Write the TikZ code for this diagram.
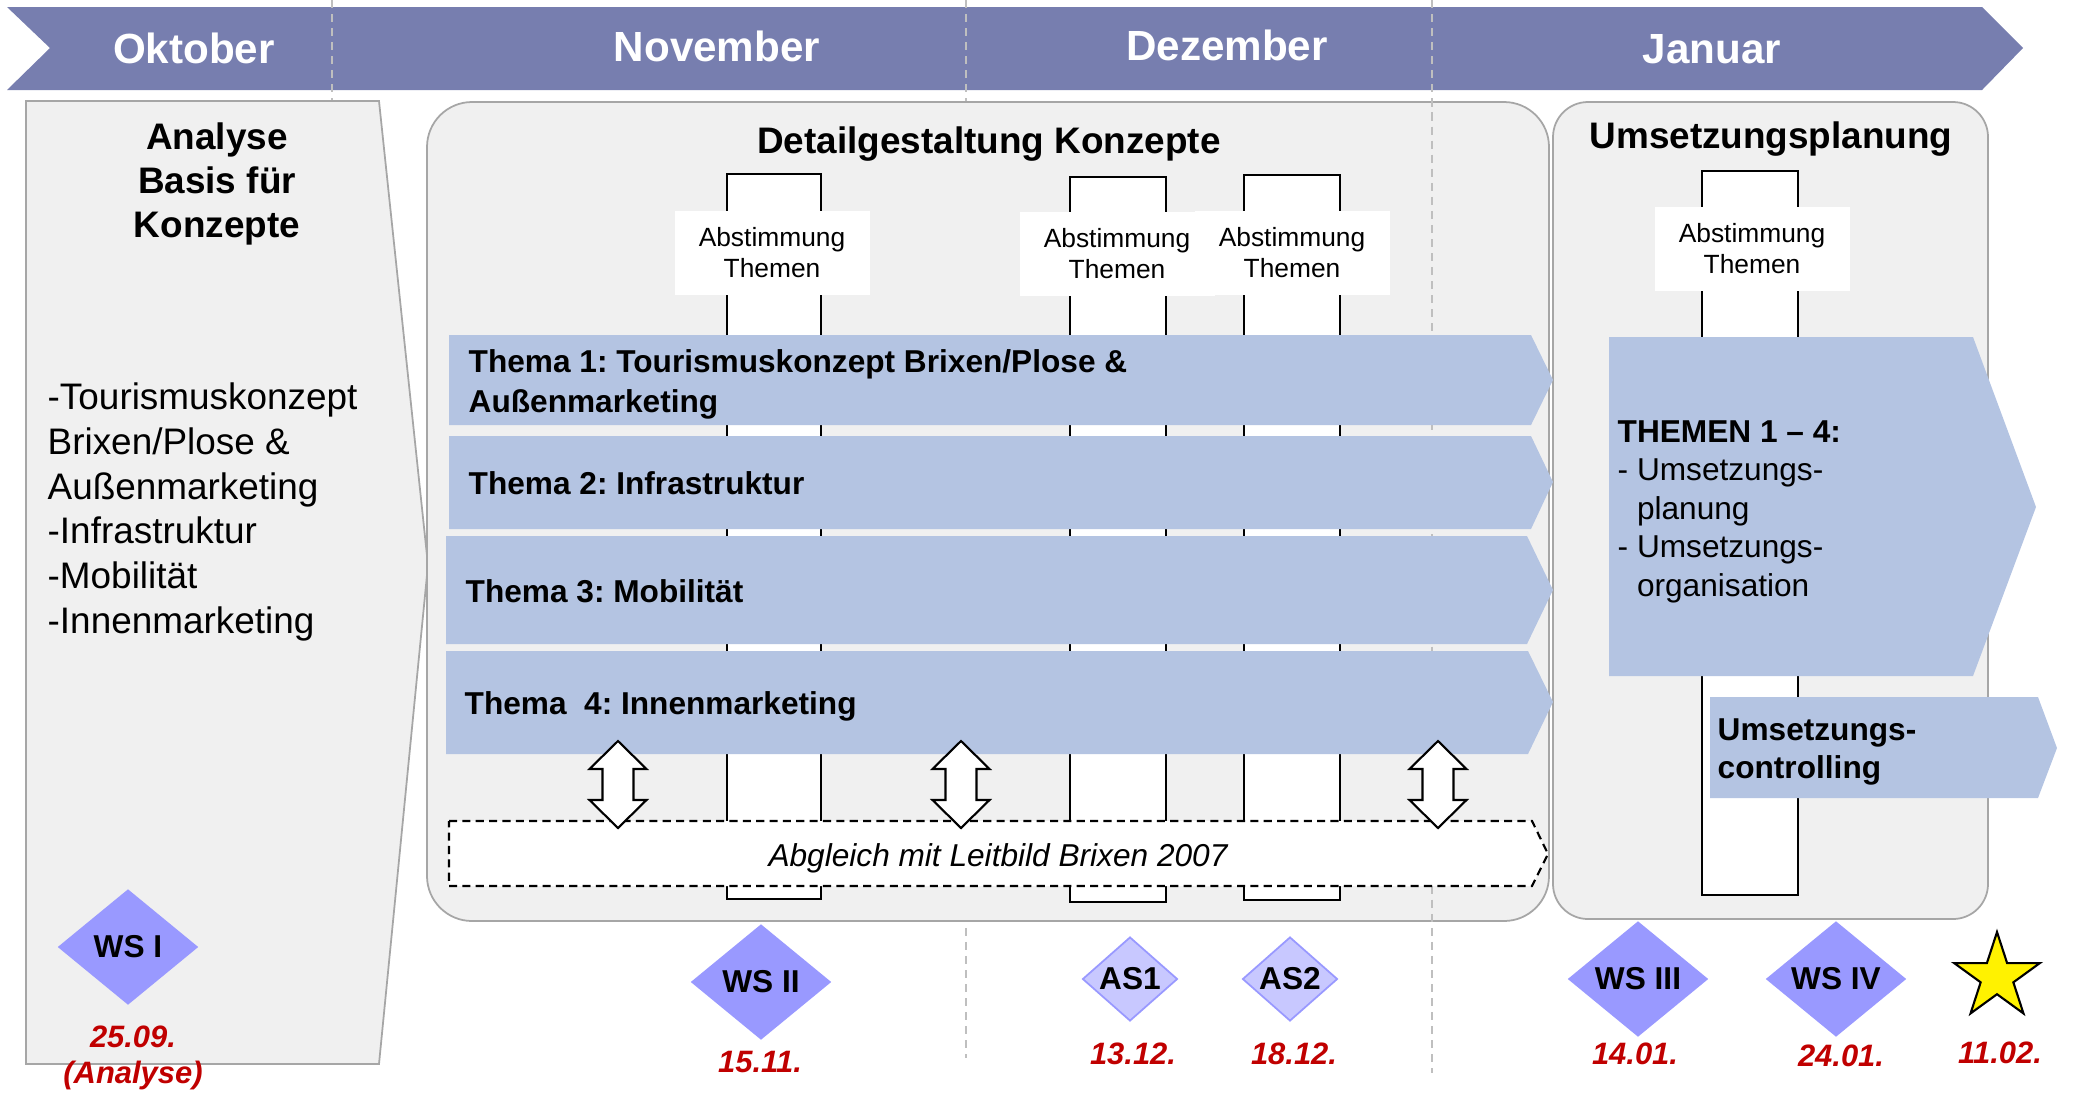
\documentclass[tikz,border=0pt]{standalone}
\usepackage{fontspec}
\setmainfont{Liberation Sans}
\frenchspacing
\usetikzlibrary{shapes.geometric, positioning}
\definecolor{bandblue}{RGB}{119,126,175}
\definecolor{boxgray}{RGB}{240,240,240}
\definecolor{boxline}{RGB}{166,166,166}
\definecolor{barblue}{RGB}{180,196,226}
\definecolor{wsblue}{RGB}{153,153,255}
\definecolor{asblue}{RGB}{200,200,255}
\definecolor{datered}{RGB}{192,0,0}
\definecolor{sepgray}{RGB}{191,191,191}
\tikzset{
  month/.style={font=\fontsize{12}{14}\selectfont\bfseries, text=white, anchor=base, inner sep=0pt},
  phase/.style={draw=boxline, fill=boxgray, line width=0.5pt},
  phasetitle/.style={font=\fontsize{10.5}{12.5}\selectfont\bfseries, align=center, inner sep=0pt},
  col/.style={draw=black, fill=white, line width=0.6pt},
  abst/.style={fill=white, inner sep=0pt, minimum width=19.5mm, minimum height=8.4mm, align=center, font=\fontsize{7.5}{8.8}\selectfont},
  thema/.style={fill=barblue},
  thematext/.style={font=\fontsize{9}{11}\selectfont\bfseries, align=left, inner sep=0pt, anchor=base west},
  dblarr/.style={draw=black, fill=white, line width=0.6pt},
  abgl/.style={draw=black, fill=white, line width=0.6pt, dash pattern=on 2.3pt off 1.5pt},
  ws/.style={diamond, fill=wsblue, inner sep=0pt, minimum width=14.1mm, minimum height=11.6mm, font=\fontsize{9}{10}\selectfont\bfseries},
  as/.style={diamond, fill=asblue, draw=wsblue, line width=0.5pt, inner sep=0pt, minimum width=9.5mm, minimum height=7.6mm, font=\fontsize{9}{10}\selectfont\bfseries},
  datum/.style={text=datered, font=\fontsize{8.8}{10.3}\selectfont\bfseries\itshape, align=center, inner sep=0pt},
  sep/.style={draw=sepgray, line width=0.6pt, dash pattern=on 2.3pt off 1.7pt}
}

\begin{document}
\begin{tikzpicture}[x=0.1mm, y=-0.1mm]
    \useasboundingbox (0,0) rectangle (2073,1092);

    \fill[bandblue] (7,7) -- (1982,7) -- (2023,48) -- (1982,90) -- (7,90) -- (50,48) -- cycle;
    \draw[sep] (332,0) -- (332,101);
    \draw[sep] (966,0) -- (966,1058);

    \node[month] (okt) at (194,63) {Oktober};
    \node[month] (nov) at (717,61) {November};
    \node[month] (dez) at (1227,60) {Dezember};
    \node[month] (jan) at (1712,63) {Januar};

    \filldraw[phase] (26,101) -- (379,101) -- (428,565) -- (379,1064) -- (26,1064) -- cycle;
    \filldraw[phase, rounded corners=4.5mm] (427,102) rectangle (1549,921);
    \filldraw[phase, rounded corners=3.5mm] (1553,102) rectangle (1988,919);
    \draw[sep] (1432,0) -- (1432,1073);

    \node[phasetitle, anchor=north] (analyse) at (217,122) {Analyse\\Basis für\\Konzepte};
    \node[font=\fontsize{10.5}{12.75}\selectfont, align=left, inner sep=0pt, anchor=north west] (liste) at (47,382)
        {-Tourismuskonzept\\Brixen/Plose \&\\Außenmarketing\\-Infrastruktur\\-Mobilität\\-Innenmarketing};
    \node[phasetitle, anchor=base] (detail) at (989,153) {Detailgestaltung Konzepte};
    \node[phasetitle, anchor=base] (umsetzung) at (1771,148) {Umsetzungsplanung};

    \draw[col] (727,174) rectangle (821,899);
    \draw[col] (1070,177) rectangle (1166,902);
    \draw[col] (1244,175) rectangle (1340,900);
    \draw[col] (1702,171) rectangle (1798,895);
    \node[abst] (ab1) at (772,253) {Abstimmung\\Themen};
    \node[abst] (ab2) at (1117,254) {Abstimmung\\Themen};
    \node[abst] (ab3) at (1292,253) {Abstimmung\\Themen};
    \node[abst] (ab4) at (1752,249) {Abstimmung\\Themen};

    \fill[thema] (449,335) -- (1531,335) -- (1553,380) -- (1531,425) -- (449,425) -- cycle;
    \fill[thema] (449,436) -- (1531,436) -- (1553,482) -- (1531,529) -- (449,529) -- cycle;
    \fill[thema] (446,536) -- (1527,536) -- (1553,590) -- (1527,644) -- (446,644) -- cycle;
    \fill[thema] (446,651) -- (1528,651) -- (1553,702) -- (1528,754) -- (446,754) -- cycle;
    \node[thematext, font=\fontsize{9}{11.2}\selectfont\bfseries, anchor=north west] (thema1) at (468,349) {Thema 1: Tourismuskonzept Brixen/Plose \&\\Außenmarketing};
    \node[thematext] (thema2) at (468,494) {Thema 2: Infrastruktur};
    \node[thematext] (thema3) at (465,602) {Thema 3: Mobilität};
    \node[thematext] (thema4) at (464,714) {Thema\ \ 4: Innenmarketing};

    \fill[thema] (1609,337) -- (1973,337) -- (2036,507) -- (1973,676) -- (1609,676) -- cycle;
    \fill[thema] (1710,697) -- (2038,697) -- (2057,748) -- (2038,798) -- (1710,798) -- cycle;
    \node[font=\fontsize{9}{10.95}\selectfont, align=left, inner sep=0pt, anchor=north west] (themen) at (1617,420)
        {\textbf{THEMEN 1 – 4:}\\- Umsetzungs-\\\hphantom{- }planung\\- Umsetzungs-\\\hphantom{- }organisation};
    \node[thematext, font=\fontsize{9}{10.9}\selectfont\bfseries, anchor=north west] (controlling) at (1717,718) {Umsetzungs-\\controlling};

    \filldraw[abgl] (449,821) -- (1532,821) -- (1548,854) -- (1532,886) -- (449,886) -- cycle;
    \node[font=\fontsize{9}{10}\selectfont\itshape, inner sep=0pt] (abgleich) at (998,858) {Abgleich mit Leitbild Brixen 2007};
    \foreach \ax in {618,961,1438}
        \draw[dblarr] (\ax,741) -- ++(28.5,28) -- ++(-13,0) -- ++(0,31) -- ++(13,0) -- (\ax,828)
            -- ++(-28.5,-28) -- ++(13,0) -- ++(0,-31) -- ++(-13,0) -- cycle;

    \node[ws] (ws1) at (128,947) {WS I};
    \node[ws] (ws2) at (761,982) {WS II};
    \node[as] (as1) at (1130,979) {AS1};
    \node[as] (as2) at (1290,979) {AS2};
    \node[ws] (ws3) at (1638,979) {WS III};
    \node[ws] (ws4) at (1836,979) {WS IV};
    \node[star, star points=5, star point ratio=2.618, minimum size=9mm, inner sep=0pt, draw=black, fill=yellow, line width=0.6pt] (ziel) at (1997,977) {};

    \node[datum] (d1) at (133,1058) {25.09.\\(Analyse)};
    \node[datum] (d2) at (760,1062) {15.11.};
    \node[datum] (d3) at (1133,1054) {13.12.};
    \node[datum] (d4) at (1294,1054) {18.12.};
    \node[datum] (d5) at (1635,1054) {14.01.};
    \node[datum] (d6) at (1841,1056) {24.01.};
    \node[datum] (d7) at (2000,1053) {11.02.};
\end{tikzpicture}
\end{document}
